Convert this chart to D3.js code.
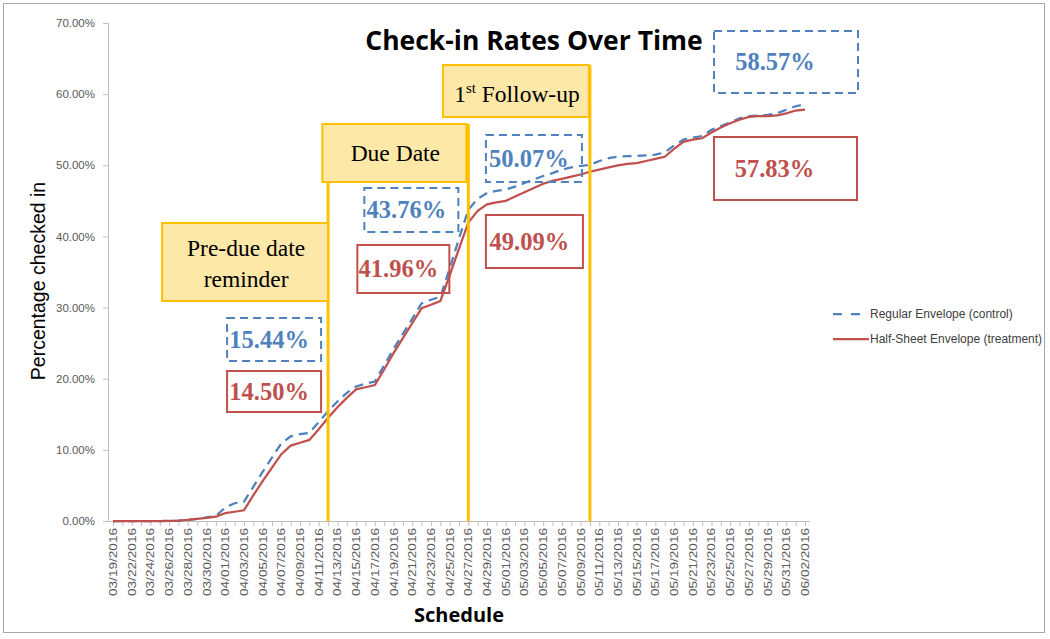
<!DOCTYPE html>
<html>
<head>
<meta charset="utf-8">
<script src="https://cdn.jsdelivr.net/npm/d3@7"></script>
<style>
  body { margin: 0; background: #fff; }
  svg { display: block; }
</style>
</head>
<body>
<div id="chart"></div>
<script>
// data
var dates = ["03/19/2016","03/21/2016","03/22/2016","03/23/2016","03/24/2016","03/25/2016","03/26/2016","03/27/2016","03/28/2016","03/29/2016",
  "03/30/2016","03/31/2016","04/01/2016","04/02/2016","04/03/2016","04/04/2016","04/05/2016","04/06/2016","04/07/2016","04/08/2016",
  "04/09/2016","04/10/2016","04/11/2016","04/12/2016","04/13/2016","04/14/2016","04/15/2016","04/16/2016","04/17/2016","04/18/2016",
  "04/19/2016","04/20/2016","04/21/2016","04/22/2016","04/23/2016","04/24/2016","04/25/2016","04/26/2016","04/27/2016","04/28/2016",
  "04/29/2016","04/30/2016","05/01/2016","05/02/2016","05/03/2016","05/04/2016","05/05/2016","05/06/2016","05/07/2016","05/08/2016",
  "05/09/2016","05/10/2016","05/11/2016","05/12/2016","05/13/2016","05/14/2016","05/15/2016","05/16/2016","05/17/2016","05/18/2016",
  "05/19/2016","05/20/2016","05/21/2016","05/22/2016","05/23/2016","05/24/2016","05/25/2016","05/26/2016","05/27/2016","05/28/2016",
  "05/29/2016","05/30/2016","05/31/2016","06/01/2016","06/02/2016"];

var regularEnvelope = [0,0,0,0,0,0,0.02,0.05,0.15,0.3,
  0.5,0.7,1.9,2.5,2.7,4.8,6.9,8.9,10.9,11.9,
  12.2,12.4,13.9,15.44,16.8,18.0,18.9,19.3,19.6,21.9,
  24.2,26.3,28.4,30.6,31.1,31.5,35.5,39.7,43.76,45.3,
  46.1,46.4,46.6,47.0,47.5,48.0,48.5,48.9,49.4,49.7,
  49.9,50.07,50.6,51.0,51.2,51.3,51.3,51.4,51.5,51.8,
  52.8,53.6,53.9,54.1,55.0,55.5,56.0,56.6,56.9,57.0,
  57.1,57.3,57.8,58.3,58.57];

var halfSheetEnvelope = [0,0,0,0,0,0,0.02,0.05,0.15,0.3,
  0.45,0.6,1.1,1.3,1.5,3.6,5.6,7.5,9.4,10.6,
  11.0,11.4,12.9,14.50,16.0,17.3,18.5,18.8,19.1,21.3,
  23.6,25.7,27.8,29.9,30.4,30.9,34.5,38.3,41.96,43.6,
  44.5,44.8,45.0,45.6,46.2,46.8,47.4,47.8,48.1,48.4,
  48.7,49.09,49.4,49.7,50.0,50.2,50.3,50.6,50.9,51.2,
  52.3,53.3,53.6,53.8,54.6,55.3,55.9,56.4,56.8,56.9,
  56.9,57.0,57.3,57.7,57.83];

var seriesNames = ["Regular Envelope (control)", "Half-Sheet Envelope (treatment)"];
var yTicks = [0, 10, 20, 30, 40, 50, 60, 70];
var eventDates = ["04/12/2016", "04/27/2016", "05/10/2016"];
var eventLabels = [["Pre-due date", "reminder"], ["Due Date"], ["1", "st", " Follow-up"]];

var blue = "#4F81BD", red = "#C0504D", gold = "#FFC000", goldFill = "#FEE8A8";
var axisGray = "#BFBFBF", textGray = "#595959";

var svg = d3.select("#chart").append("svg")
  .attr("width", 1050)
  .attr("height", 639);

// outer chart border
svg.append("rect")
  .attr("x", 3.5).attr("y", 3.5)
  .attr("width", 1041).attr("height", 629)
  .attr("fill", "none")
  .attr("stroke", "#A6A6A6")
  .attr("stroke-width", 1);

var x = d3.scalePoint().domain(dates).range([113, 805]);
var y = d3.scaleLinear().domain([0, 70]).range([521, 23]);

// y axis
var yAxis = d3.axisLeft(y)
  .tickValues(yTicks)
  .tickSize(5)
  .tickFormat(d => d3.format(".2%")(d / 100));

var yG = svg.append("g")
  .attr("transform", "translate(108,0)")
  .call(yAxis);
yG.select(".domain").attr("stroke", axisGray);
yG.selectAll(".tick line").attr("stroke", axisGray);
yG.selectAll(".tick text")
  .attr("x", -13)
  .attr("fill", textGray)
  .style("font-family", "Liberation Sans, Arial, sans-serif")
  .style("font-size", "11.5px");

// x axis
var xAxis = d3.axisBottom(x).tickSize(5).tickSizeOuter(0).tickFormat("");
var xG = svg.append("g")
  .attr("transform", "translate(0,521)")
  .call(xAxis);
xG.select(".domain").attr("d", "M108,0.5H810").attr("stroke", axisGray);
xG.selectAll(".tick line").attr("stroke", axisGray);

// x labels every second category (03/19 then 03/22, 03/24 ...)
var labelDates = dates.filter((d, i) => i === 0 || i % 2 === 0);
svg.append("g").selectAll("text")
  .data(labelDates)
  .enter()
  .append("text")
  .attr("transform", d => `translate(${x(d) + 4},528) rotate(-90)`)
  .attr("text-anchor", "end")
  .attr("fill", textGray)
  .attr("textLength", 68)
  .attr("lengthAdjust", "spacingAndGlyphs")
  .style("font-family", "Liberation Sans, Arial, sans-serif")
  .style("font-size", "11px")
  .text(d => d);

// axis titles
svg.append("text")
  .attr("transform", "translate(45,281) rotate(-90)")
  .attr("text-anchor", "middle")
  .attr("fill", "#000")
  .style("font-family", "Liberation Sans, Arial, sans-serif")
  .style("font-size", "19.5px")
  .text("Percentage checked in");

svg.append("text")
  .attr("x", 459).attr("y", 622)
  .attr("text-anchor", "middle")
  .style("font-family", "Open Sans, sans-serif")
  .style("font-weight", "700")
  .style("font-size", "20px")
  .text("Schedule");

svg.append("text")
  .attr("x", 534).attr("y", 50)
  .attr("text-anchor", "middle")
  .style("font-family", "Open Sans, sans-serif")
  .style("font-weight", "700")
  .style("font-size", "26.5px")
  .text("Check-in Rates Over Time");

// lines
var line = d3.line()
  .x((d, i) => x(dates[i]))
  .y(d => y(d));

svg.append("path")
  .datum(regularEnvelope)
  .attr("d", line)
  .attr("fill", "none")
  .attr("stroke", blue)
  .attr("stroke-width", 2.25)
  .attr("stroke-dasharray", "9,6");

svg.append("path")
  .datum(halfSheetEnvelope)
  .attr("d", line)
  .attr("fill", "none")
  .attr("stroke", red)
  .attr("stroke-width", 2.25);

// event markers: vertical lines and labelled boxes
var eventTops = [150, 124, 65];
svg.append("g").selectAll("line")
  .data(eventDates)
  .enter()
  .append("line")
  .attr("x1", d => x(d)).attr("x2", d => x(d))
  .attr("y1", (d, i) => eventTops[i])
  .attr("y2", y(0))
  .attr("stroke", gold)
  .attr("stroke-width", 3);

// box layout relative to each event line: [left offset, top, right offset, bottom]
var eventBoxes = [[-166, 223, 0, 301], [-146, 124, -2, 182], [-147, 65, -1, 117]];
var serif = "Liberation Serif, Times New Roman, serif";
eventDates.forEach(function(d, i) {
  var b = eventBoxes[i];
  var x0 = x(d) + b[0], x1 = x(d) + b[2];
  svg.append("rect")
    .attr("x", x0).attr("y", b[1])
    .attr("width", x1 - x0).attr("height", b[3] - b[1])
    .attr("fill", goldFill)
    .attr("stroke", gold)
    .attr("stroke-width", 2);
  var cx = (x0 + x1) / 2;
  var t = svg.append("text")
    .attr("text-anchor", "middle")
    .style("font-family", serif)
    .style("font-size", "23.5px")
    .attr("fill", "#000");
  if (i === 0) {
    t.attr("x", cx + 1).attr("y", 256).text(eventLabels[0][0]);
    svg.append("text")
      .attr("x", cx + 1).attr("y", 287)
      .attr("text-anchor", "middle")
      .style("font-family", serif)
      .style("font-size", "23.5px")
      .text(eventLabels[0][1]);
  } else if (i === 1) {
    t.attr("x", cx + 1).attr("y", 161).text(eventLabels[1][0]);
  } else {
    t.attr("x", cx + 1).attr("y", 102);
    t.append("tspan").text(eventLabels[2][0]);
    t.append("tspan").attr("dy", -9).style("font-size", "15px").text(eventLabels[2][1]);
    t.append("tspan").attr("dy", 9).text(eventLabels[2][2]);
  }
});

// value callouts
var lastDate = dates[dates.length - 1];
var callouts = [
  { series: 0, date: eventDates[0], box: [x(eventDates[0]) - 101, 318, x(eventDates[0]) - 7, 361] },
  { series: 1, date: eventDates[0], box: [x(eventDates[0]) - 101, 371, x(eventDates[0]) - 7, 412] },
  { series: 0, date: eventDates[1], box: [x(eventDates[1]) - 104, 188, x(eventDates[1]) - 10, 232] },
  { series: 1, date: eventDates[1], box: [x(eventDates[1]) - 111, 245, x(eventDates[1]) - 19, 293] },
  { series: 0, date: eventDates[2], box: [x(eventDates[2]) - 104, 135, x(eventDates[2]) - 8, 182] },
  { series: 1, date: eventDates[2], box: [x(eventDates[2]) - 104, 215, x(eventDates[2]) - 7, 268] },
  { series: 0, date: lastDate, box: [714, 31, 858, 93] },
  { series: 1, date: lastDate, box: [714, 137, 857, 200] }
];

callouts.forEach(function(c) {
  var vals = c.series === 0 ? regularEnvelope : halfSheetEnvelope;
  var v = vals[dates.indexOf(c.date)];
  var col = c.series === 0 ? blue : red;
  var b = c.box;
  var wide = b[2] - b[0] > 120;
  svg.append("rect")
    .attr("x", b[0]).attr("y", b[1])
    .attr("width", b[2] - b[0]).attr("height", b[3] - b[1])
    .attr("fill", "none")
    .attr("stroke", col)
    .attr("stroke-width", 2)
    .attr("stroke-dasharray", c.series === 0 ? "8,5" : null);
  svg.append("text")
    .attr("x", (b[0] + b[2]) / 2 - (wide ? 11 : 5))
    .attr("y", (b[1] + b[3]) / 2 + 8)
    .attr("text-anchor", "middle")
    .attr("fill", col)
    .style("font-family", serif)
    .style("font-weight", "700")
    .style("font-size", "24.5px")
    .text(d3.format(".2%")(v / 100));
});

// legend
var legend = svg.append("g").attr("transform", "translate(833,314)");
seriesNames.forEach(function(name, i) {
  legend.append("line")
    .attr("x1", 0).attr("x2", 36)
    .attr("y1", i * 25).attr("y2", i * 25)
    .attr("stroke", i === 0 ? blue : red)
    .attr("stroke-width", 2.25)
    .attr("stroke-dasharray", i === 0 ? "9,9" : null);
  legend.append("text")
    .attr("x", 37).attr("y", i * 25 + 4)
    .attr("fill", "#404040")
    .style("font-family", "Liberation Sans, Arial, sans-serif")
    .style("font-size", "12px")
    .text(name);
});
</script>
</body>
</html>
